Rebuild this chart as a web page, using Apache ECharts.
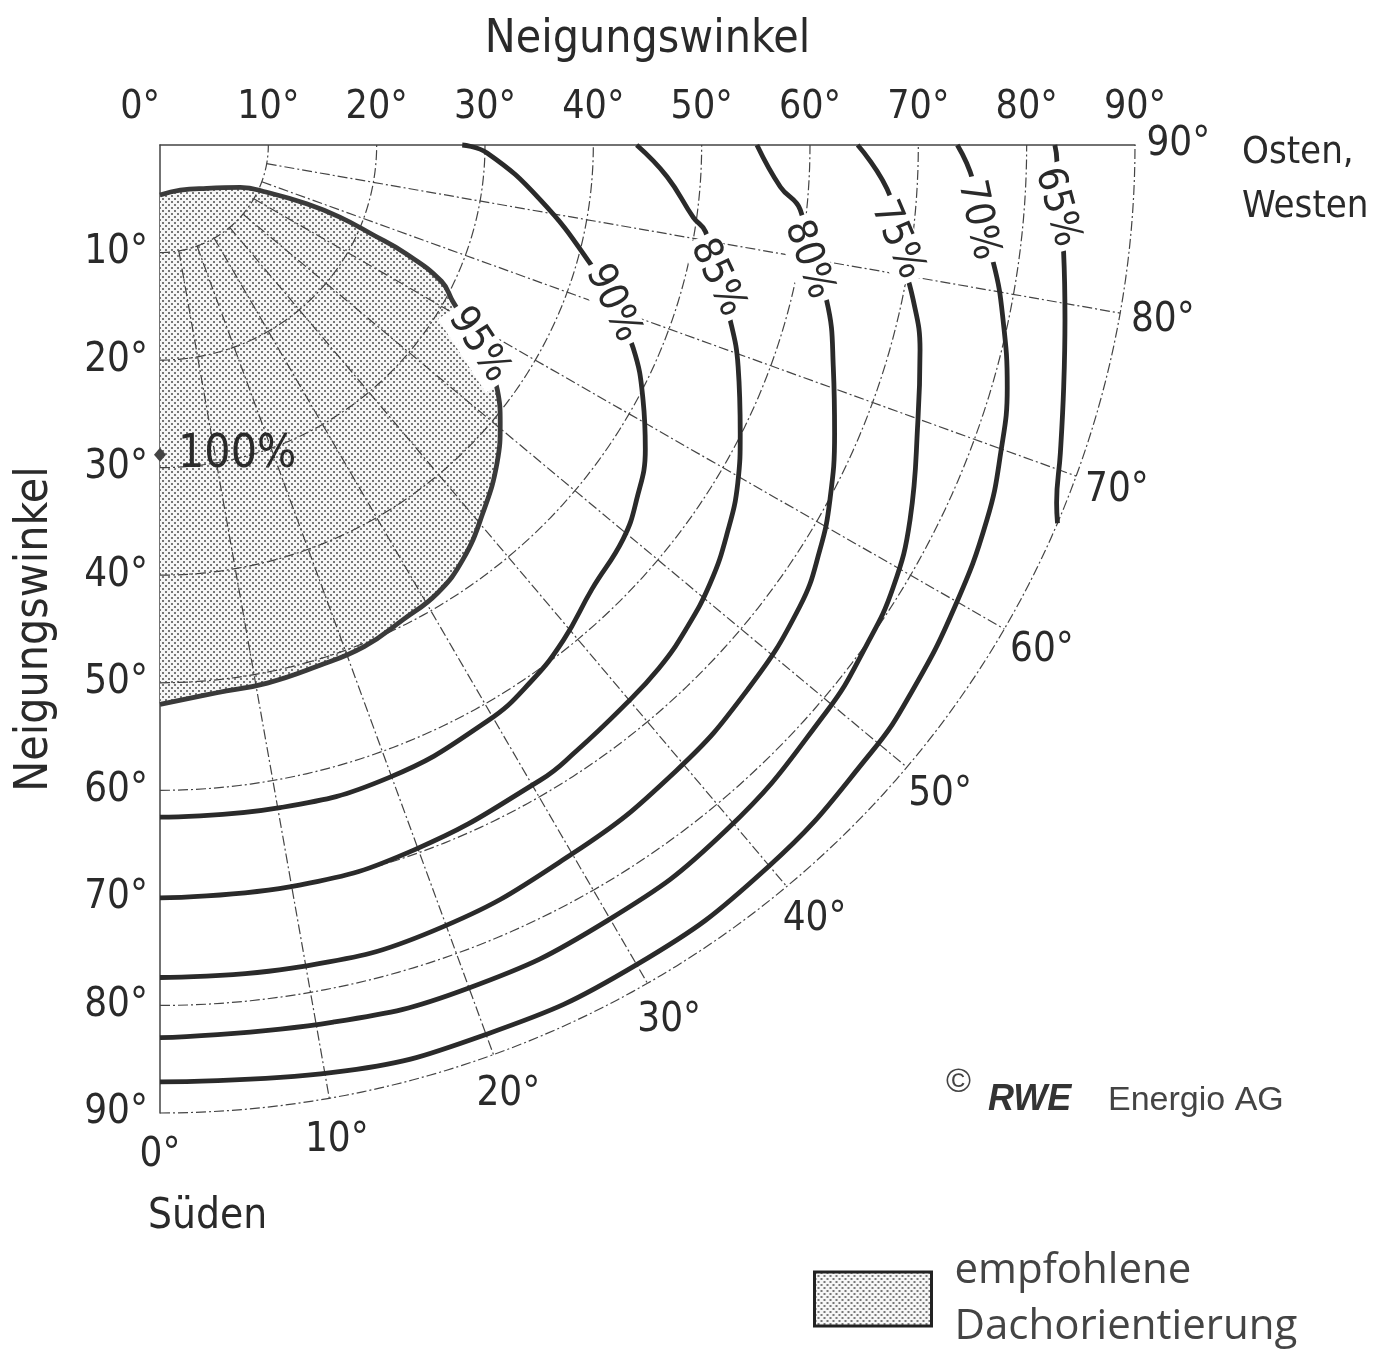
<!DOCTYPE html>
<html>
<head>
<meta charset="utf-8">
<script src="https://cdn.jsdelivr.net/npm/echarts@6/dist/echarts.min.js"></script>
<style>
  html, body { margin: 0; padding: 0; background: #fff; }
  #container { width: 1387px; height: 1357px; }
</style>
</head>
<body>
<div id="container"></div>
<script>
var dom = document.getElementById('container');
var myChart = echarts.init(dom, null, { renderer: 'canvas' });

var FONT = "'Liberation Sans Narrow', 'DejaVu Sans Condensed', 'Liberation Sans', sans-serif";

// Neigungswinkel-Kreise und Azimut-Strahlen (Grad)
var tiltRings = [10, 20, 30, 40, 50, 60, 70, 80, 90];
var azRays = [10, 20, 30, 40, 50, 60, 70, 80];
var azTicks = [0, 10, 20, 30, 40, 50, 60, 70, 80, 90];

// Linien gleicher Einstrahlung: [Azimut, Neigung]
var c95 = [[0, 4.65], [24, 4.6], [47, 5.9], [62, 8.4], [66, 10.8], [68, 14.6], [68, 17.9], [67, 21.3], [66, 24.9],
  [64, 28.9], [61.7, 30.7], [57.7, 34.8], [53.8, 38.6], [50.5, 40.7], [46.5, 42.9], [41, 45.4], [36, 47.6],
  [31.6, 48.9], [27, 49.5], [22, 50.3], [16.6, 50.6], [11.2, 51], [5.9, 51.2], [0, 52]];
var c90 = [[90, 27.9], [88.6, 30.2], [81.7, 35.5], [74.5, 41.2], [70.6, 44.3], [66.6, 47.6], [62, 50.5], [57.7, 53],
  [53.1, 55], [49.4, 56.3], [44, 57.4], [39, 59.2], [34.5, 60.5], [29.4, 61.5], [19.7, 62.5], [10.2, 62.6], [0, 62.5]];
var c85 = [[90, 44], [86.4, 46.9], [82.2, 49.7], [80.9, 51], [76.5, 52.9], [72.8, 55.1], [68.9, 57.2], [63.4, 59.9],
  [59.5, 61.9], [55.4, 63.6], [51.3, 65.1], [47.2, 66.2], [43.4, 67], [39.2, 67.5], [34.3, 68.2], [30.7, 68.7],
  [19.8, 69.6], [10.6, 70], [0, 70]];
var c80 = [[90, 55.1], [86.1, 57.4], [84.2, 59.4], [79.9, 60.8], [76.8, 63.2], [71.6, 65.5], [66.7, 67.8], [61.9, 70.1],
  [58.3, 71.6], [54, 73], [47, 74.2], [39.3, 75.2], [30, 76.1], [19, 77.3], [9.6, 77.5], [0, 77.4]];
var c75 = [[90, 64.4], [85.9, 67.6], [82.6, 68.6], [78.3, 71], [74.8, 72.7], [69.9, 74.5], [63.3, 77.5], [58.7, 79.2],
  [54.5, 80.1], [49.4, 81], [39.4, 82.4], [29.8, 83.1], [19.9, 83.4], [11.1, 83.1], [0, 83]];
var c70 = [[90, 73.6], [87.5, 75.1], [84.7, 75.8], [81.9, 77.7], [78.2, 79.5], [73.9, 81.4], [69.8, 82.7], [65.5, 83.9],
  [59.7, 85], [53.9, 86], [49.3, 86.6], [39.9, 87.5], [30, 88], [20, 88], [10.5, 87.7], [0, 87.1]];
var c65 = [[90, 82.6], [89, 82.8], [86, 83], [83.2, 84], [79, 85.1], [74.9, 86.4], [71, 87.9], [68.1, 89.2], [67, 90]];

var contourNames = ['95%', '90%', '85%', '80%', '75%', '70%', '65%'];
var contourData = [c95, c90, c85, c80, c75, c70, c65];
// Lage der Beschriftung [Azimut, Neigung] und Drehung
var labelAt = [[57.7, 34.8], [70.6, 44.3], [76.5, 52.9], [79.9, 60.8], [82.6, 68.6], [84.7, 75.8], [86, 83]];
var labelRot = [-57, -65, -65, -71, -67, -78, -75];

var optimum = [0, 28.8]; // 100 %

function toXY(az, tilt) {
  var a = az * Math.PI / 180;
  return [tilt * Math.sin(a), tilt * Math.cos(a)];
}

// Punktraster für die empfohlene Fläche
function makeDots() {
  var c = document.createElement('canvas');
  c.width = 6; c.height = 6;
  var g = c.getContext('2d');
  g.fillStyle = '#f6f6f6';
  g.fillRect(0, 0, 6, 6);
  g.fillStyle = '#777';
  g.fillRect(0, 0, 2, 2);
  g.fillRect(3, 3, 2, 2);
  return c;
}
var dots = { image: makeDots(), repeat: 'repeat' };

var gridLine = { stroke: '#444', lineWidth: 1.2, lineDash: [10, 3, 2, 3], fill: null };

var series = [];

series.push({
  name: 'empfohlene\nDachorientierung',
  type: 'custom',
  z: 1,
  silent: true,
  itemStyle: { color: dots },
  data: [[0, 0]],
  renderItem: function (params, api) {
    return {
      type: 'polygon',
      shape: { points: c95.map(function (p) { return api.coord(toXY(p[0], p[1])); }) },
      style: { fill: dots, stroke: null }
    };
  }
});

series.push({
  type: 'custom',
  z: 2,
  silent: true,
  data: tiltRings.map(function (t) { return [t, 0]; }),
  renderItem: function (params, api) {
    var t = api.value(0);
    var pts = [];
    for (var a = 0; a <= 90; a += 1) pts.push(api.coord(toXY(a, t)));
    return { type: 'polyline', shape: { points: pts }, style: gridLine };
  }
});

series.push({
  type: 'custom',
  z: 2,
  silent: true,
  data: azRays.map(function (a) { return [a, 0]; }),
  renderItem: function (params, api) {
    var a = api.value(0);
    return {
      type: 'polyline',
      shape: { points: [api.coord(toXY(a, 10)), api.coord(toXY(a, 90))] },
      style: gridLine
    };
  }
});

contourData.forEach(function (pts, i) {
  series.push({
    name: contourNames[i],
    type: 'line',
    z: 3,
    silent: true,
    clip: false,
    smooth: 0.45,
    symbol: 'none',
    lineStyle: { color: i === 0 ? '#3a3a3a' : '#2a2a2a', width: 4.8 },
    data: pts.map(function (p) { return toXY(p[0], p[1]); })
  });
});

series.push({
  type: 'scatter',
  z: 6,
  silent: true,
  clip: false,
  symbolSize: 0,
  itemStyle: { opacity: 1 },
  data: labelAt.map(function (p, i) {
    return {
      value: toXY(p[0], p[1]),
      name: contourNames[i],
      label: { rotate: labelRot[i] }
    };
  }),
  label: {
    show: true,
    position: 'inside',
    formatter: '{b}',
    fontFamily: FONT,
    fontSize: 40,
    color: '#2a2a2a',
    backgroundColor: '#fff',
    padding: [0, 4]
  }
});

series.push({
  type: 'scatter',
  z: 6,
  silent: true,
  clip: false,
  symbol: 'diamond',
  symbolSize: [12, 14],
  itemStyle: { color: '#444', opacity: 1 },
  data: [{ value: toXY(optimum[0], optimum[1]), name: '100%' }],
  label: {
    show: true,
    position: 'right',
    distance: 12,
    formatter: '{b}',
    fontFamily: FONT,
    fontSize: 46,
    color: '#2a2a2a'
  }
});

series.push({
  type: 'scatter',
  z: 6,
  silent: true,
  clip: false,
  symbolSize: 0,
  itemStyle: { opacity: 1 },
  data: azTicks.map(function (a) { return { value: toXY(a, 94), name: a + '°' }; }),
  label: {
    show: true,
    position: 'inside',
    formatter: '{b}',
    fontFamily: FONT,
    fontSize: 40,
    color: '#2a2a2a'
  }
});

var option = {
  backgroundColor: '#fff',
  animation: false,
  grid: { left: 160, top: 145, width: 975, height: 968 },
  legend: {
    data: ['empfohlene\nDachorientierung'],
    left: 808,
    top: 1238,
    icon: 'rect',
    itemWidth: 117,
    itemHeight: 54,
    selectedMode: false,
    itemStyle: { color: dots, borderColor: '#222', borderWidth: 3 },
    textStyle: {
      fontFamily: "'Open Sans', 'Noto Sans', sans-serif",
      fontSize: 42,
      lineHeight: 56,
      color: '#444',
      padding: [0, 0, 0, 18]
    }
  },
  xAxis: {
    type: 'value',
    position: 'top',
    min: 0,
    max: 90,
    interval: 10,
    name: 'Neigungswinkel',
    nameLocation: 'middle',
    nameGap: 82,
    nameTextStyle: { fontFamily: FONT, fontSize: 46, color: '#2a2a2a' },
    axisLine: { show: true, lineStyle: { color: '#444', width: 1.5 } },
    axisTick: { show: false },
    splitLine: { show: false },
    axisLabel: {
      formatter: '{value}°',
      fontFamily: FONT,
      fontSize: 39,
      color: '#2a2a2a',
      margin: 18,
      alignMinLabel: 'right'
    }
  },
  yAxis: {
    type: 'value',
    inverse: true,
    min: 0,
    max: 90,
    interval: 10,
    name: 'Neigungswinkel',
    nameLocation: 'middle',
    nameGap: 102,
    nameTextStyle: { fontFamily: FONT, fontSize: 46, color: '#2a2a2a' },
    axisLine: { show: true, lineStyle: { color: '#444', width: 1.5 } },
    axisTick: { show: false },
    splitLine: { show: false },
    axisLabel: {
      formatter: function (v) { return v === 0 ? '' : v + '°'; },
      fontFamily: FONT,
      fontSize: 40,
      color: '#2a2a2a',
      margin: 12
    }
  },
  graphic: [
    { type: 'text', left: 148, top: 1196, style: { text: 'Süden', font: '42px ' + FONT, fill: '#2a2a2a' } },
    { type: 'text', left: 1242, top: 126, style: { text: 'Osten,\nWesten', font: '38px ' + FONT, lineHeight: 54, fill: '#2a2a2a' } },
    { type: 'text', left: 946, top: 1066, style: { text: '©', font: '34px "Liberation Sans", sans-serif', fill: '#444' } },
    { type: 'text', left: 988, top: 1082, style: { text: 'RWE', font: 'italic bold 36px "Liberation Sans", sans-serif', fill: '#333' } },
    { type: 'text', left: 1108, top: 1084, style: { text: 'Energio AG', font: '34px "Liberation Sans", sans-serif', fill: '#444' } }
  ],
  series: series
};

myChart.setOption(option);
window.addEventListener('resize', myChart.resize);
</script>
</body>
</html>
